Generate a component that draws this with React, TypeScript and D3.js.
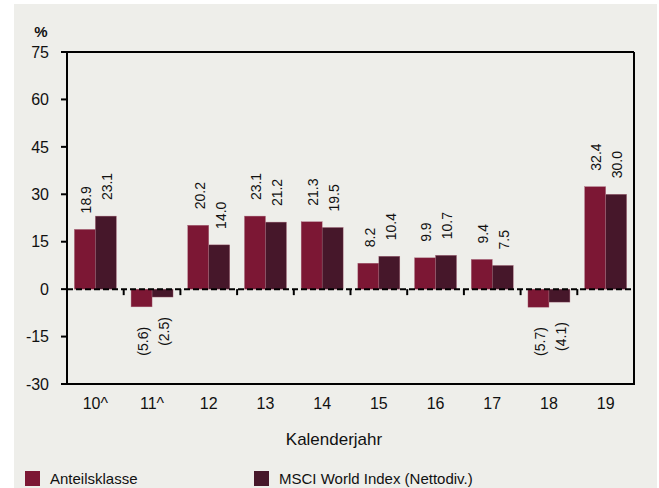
import React from "react";
import * as d3 from "d3";

const categories = ["10^", "11^", "12", "13", "14", "15", "16", "17", "18", "19"];
const anteilsklasse = [18.9, -5.6, 20.2, 23.1, 21.3, 8.2, 9.9, 9.4, -5.7, 32.4];
const msci = [23.1, -2.5, 14.0, 21.2, 19.5, 10.4, 10.7, 7.5, -4.1, 30.0];
const seriesNames = ["Anteilsklasse", "MSCI World Index (Nettodiv.)"];
const yTicks = [-30, -15, 0, 15, 30, 45, 60, 75];

const W = 659, H = 488;
const left = 67, right = 634, top = 52, bottom = 384;
const colors = ["#7c1734", "#46172a"];
const FONT = "'Liberation Sans', Arial, sans-serif";

const fmt = (v: number) => (v < 0 ? `(${Math.abs(v).toFixed(1)})` : v.toFixed(1));

export default function App() {
  const y = d3.scaleLinear().domain([-30, 75]).range([bottom, top]);
  const x = d3.scaleBand<string>().domain(categories).range([left, right]).paddingInner(0.26).paddingOuter(0.13);
  const inner = d3.scaleBand<number>().domain([0, 1]).range([0, x.bandwidth()]);
  const step = x.step();
  const y0 = y(0);
  const series = [anteilsklasse, msci];

  return (
    <svg width={W} height={H} style={{ position: "absolute", left: 0, top: 0 }} fontFamily={FONT}>
      <rect x={14} y={4} width={643} height={484} fill="#eeeeea" />
      {/* bars */}
      {series.map((vals, si) =>
        vals.map((v, i) => {
          const bx = (x(categories[i]) as number) + (inner(si) as number);
          return (
            <rect key={`b${si}-${i}`} x={bx} y={Math.min(y(v), y0)} width={inner.bandwidth()}
              height={Math.abs(y(v) - y0)} fill={colors[si]} stroke="#a8687a" strokeWidth={0.4} />
          );
        })
      )}
      {/* value labels */}
      {series.map((vals, si) =>
        vals.map((v, i) => {
          const cx = (x(categories[i]) as number) + (inner(si) as number) + inner.bandwidth() / 2;
          const ly = v >= 0 ? y(v) - 16 : y(v) + 20;
          return (
            <text key={`l${si}-${i}`} transform={`translate(${cx},${ly}) rotate(-90)`}
              textAnchor={v >= 0 ? "start" : "end"} dy="0.45em" fontSize={14} fill="#111">
              {fmt(v)}
            </text>
          );
        })
      )}
      {/* frame */}
      <line x1={left - 6} x2={right} y1={top} y2={top} stroke="#000" strokeWidth={2} />
      <line x1={left} x2={left} y1={top} y2={bottom} stroke="#000" strokeWidth={2} />
      <line x1={right} x2={right} y1={top} y2={bottom + 1} stroke="#000" strokeWidth={2} />
      <line x1={left - 6} x2={right + 1} y1={bottom} y2={bottom} stroke="#000" strokeWidth={2} />
      {/* y ticks */}
      {yTicks.map((t) => (
        <g key={`yt${t}`}>
          <line x1={left - 6} x2={left} y1={y(t)} y2={y(t)} stroke="#000" strokeWidth={2} />
          <text x={49} y={y(t)} dy="0.36em" textAnchor="end" fontSize={16} fill="#111">{t}</text>
        </g>
      ))}
      <text x={41} y={37} textAnchor="middle" fontSize={15} fontWeight="bold" fill="#111">%</text>
      {/* zero dashed line */}
      <line x1={left} x2={right} y1={y0} y2={y0} stroke="#000" strokeWidth={2} strokeDasharray="6,3" />
      {/* category ticks at zero line */}
      {d3.range(1, categories.length).map((i) => (
        <line key={`ct${i}`} x1={left + i * step} x2={left + i * step} y1={y0} y2={y0 + 6} stroke="#000" strokeWidth={2} />
      ))}
      {/* x labels */}
      {categories.map((c) => (
        <text key={`xl${c}`} x={(x(c) as number) + x.bandwidth() / 2} y={409} textAnchor="middle" fontSize={16} fill="#111">
          {c}
        </text>
      ))}
      <text x={334} y={445} textAnchor="middle" fontSize={17} fill="#111">Kalenderjahr</text>
      {/* legend */}
      {seriesNames.map((n, i) => {
        const lx = i === 0 ? 25 : 254;
        return (
          <g key={`lg${i}`}>
            <rect x={lx} y={471} width={15} height={15} fill={colors[i]} />
            <text x={lx + 25} y={484} fontSize={15} fill="#111">{n}</text>
          </g>
        );
      })}
    </svg>
  );
}
